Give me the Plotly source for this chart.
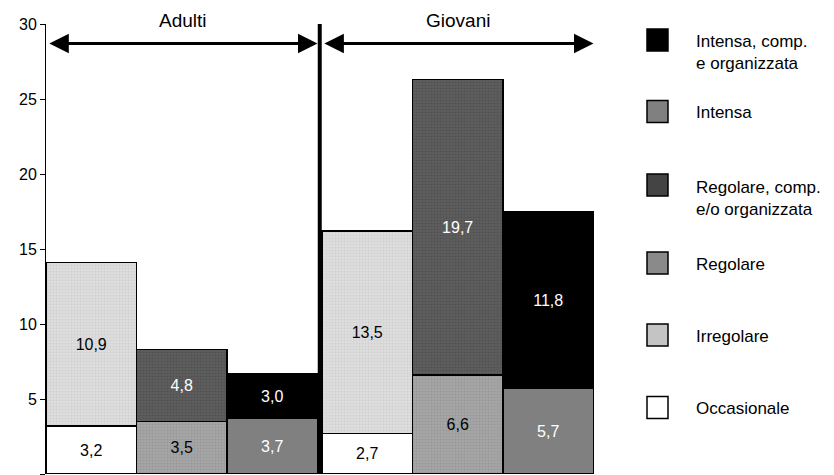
import plotly.graph_objects as go

# bar slots: (group, series pair)
gruppi = ["Adulti", "Adulti", "Adulti", "Giovani", "Giovani", "Giovani"]
serie = ["Occasionale", "Irregolare", "Regolare", "Regolare, comp.<br>e/o organizzata",
         "Intensa", "Intensa, comp.<br>e organizzata"]
occasionale = [3.2, None, None, 2.7, None, None]
irregolare = [10.9, None, None, 13.5, None, None]
regolare = [None, 3.5, None, None, 6.6, None]
regolare_comp = [None, 4.8, None, None, 19.7, None]
intensa = [None, None, 3.7, None, None, 5.7]
intensa_comp = [None, None, 3.0, None, None, 11.8]
y_ticks = [0, 5, 10, 15, 20, 25, 30]

# position of each slot: unit width, small gap between the two groups
gap = 0.05
xpos = [i + 0.5 + (gap if g == "Giovani" else 0) for i, g in enumerate(gruppi)]

styles = [
    # values, name, bg, fg, text color
    (occasionale, serie[0], "white", None, "black"),
    (irregolare, serie[1], "#dedede", "#c4c4c4", "black"),
    (regolare, serie[2], "#a6a6a6", "#8a8a8a", "black"),
    (regolare_comp, serie[3], "#5e5e5e", "#444444", "white"),
    (intensa, serie[4], "#808080", None, "white"),
    (intensa_comp, serie[5], "black", None, "white"),
]

fig = go.Figure()
for vals, name, bg, fg, tc in styles:
    txt = [("%.1f" % v).replace(".", ",") if v is not None else "" for v in vals]
    marker = dict(color=bg, line=dict(color="black", width=1.5))
    if fg:
        marker["pattern"] = dict(shape=".", size=3, solidity=0.4, fgcolor=fg, bgcolor=bg)
    fig.add_trace(go.Bar(
        x=xpos, y=vals, name=name, width=1, marker=marker,
        text=txt, textposition="inside", insidetextanchor="middle",
        textfont=dict(color=tc, size=16, family="Liberation Sans"),
        showlegend=False, hoverinfo="skip",
    ))

# divider between groups
xdiv = 3 + gap / 2
fig.add_shape(type="line", x0=xdiv, x1=xdiv, y0=0, y1=30, xref="x", yref="y",
              line=dict(color="black", width=4))

# group arrows
yarr = 28.7
for x0, x1, lab in [(0.02, 3.0, "Adulti"), (3.06, 6.05, "Giovani")]:
    fig.add_annotation(x=x1, y=yarr, ax=x0, ay=yarr, xref="x", yref="y", axref="x", ayref="y",
                       text="", showarrow=True, arrowhead=2, arrowside="end+start",
                       arrowsize=1.3, arrowwidth=3, arrowcolor="black")
    fig.add_annotation(x=(x0 + x1) / 2, y=1.0, xref="x", yref="paper", yanchor="bottom",
                       text=lab, showarrow=False, yshift=-9,
                       font=dict(size=19, color="black", family="Liberation Sans"))

# page body keeps its default 8px margin, so the figure is shrunk by that much
body = 8
W, H = 834 - body, 475 - body
left, width, top, height = 46, 552, 24, 450   # plot area in window pixels
def px(x):
    return (x - left) / width
def py(y):
    return 1 - (y - top) / height

# manual legend (top to bottom)
leg_centers = [40, 111.5, 185, 263, 335, 407.5]
leg_items = list(reversed(styles))
for cy, (vals, name, bg, fg, tc) in zip(leg_centers, leg_items):
    fig.add_shape(type="rect", xref="paper", yref="paper",
                  x0=px(647), x1=px(668), y0=py(cy - 11), y1=py(cy + 11),
                  fillcolor=bg if fg is None else fg, line=dict(color="black", width=1.5))
    two = "<br>" in name
    fig.add_annotation(x=px(694), y=py(cy + (13 if two else 1)), xref="paper", yref="paper",
                       text=name, showarrow=False, xanchor="left", yanchor="middle", align="left",
                       font=dict(size=17, color="black", family="Liberation Sans"))

fig.update_layout(
    width=W, height=H,
    margin=dict(l=left - body, r=W - (left - body) - width, t=top - body,
                b=H - (top - body) - height),
    barmode="stack", bargap=0, hovermode=False, dragmode=False,
    plot_bgcolor="white", paper_bgcolor="white",
    font=dict(family="Liberation Sans", size=16, color="black"),
)
fig.update_xaxes(range=[0, 6.1], showticklabels=False, ticks="", showgrid=False,
                 zeroline=False, showline=False)
fig.update_yaxes(range=[0, 30], tickvals=y_ticks, ticks="outside", ticklen=5, tickcolor="black",
                 showgrid=False, zeroline=False, showline=True, linecolor="black", linewidth=1,
                 automargin=False, tickfont=dict(size=16))

fig.write_html("out.html", config={"displayModeBar": False, "staticPlot": True})
